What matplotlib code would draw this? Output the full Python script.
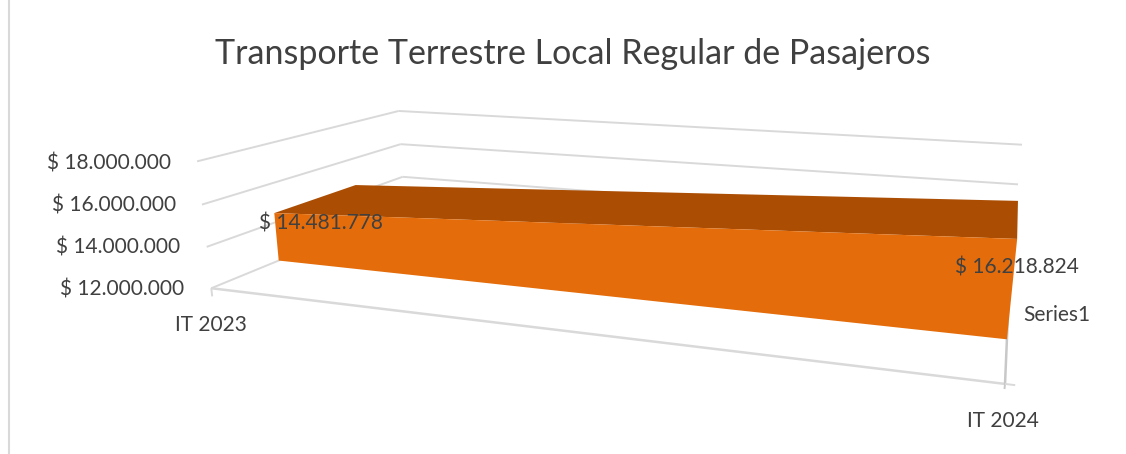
import numpy as np
import matplotlib
matplotlib.use('Agg')
import matplotlib.pyplot as plt

plt.rcParams['font.family'] = ['Lato', 'DejaVu Sans']

title = 'Transporte Terrestre Local Regular de Pasajeros'
categories = ['IT 2023', 'IT 2024']
series_name = 'Series1'
values = [14481778, 16218824]
value_labels = ['$ 14.481.778', '$ 16.218.824']
axis_ticks = [12000000, 14000000, 16000000, 18000000]
axis_labels = ['$ 12.000.000', '$ 14.000.000', '$ 16.000.000', '$ 18.000.000']

TEXT = '#404040'
GRID = '#d9d9d9'
FRONT = '#e46c0a'
TOP = '#ab4e04'

# depth of the area inside the 3d box (0 front, 1 back)
AREA_FRONT = 0.29
AREA_BACK = 0.71

# box corners, used to fit the camera: (x, depth, value) -> pixel
calib = [
    (0, 0, 12e6, 212, 288), (0, 0, 14e6, 206, 247), (0, 0, 16e6, 201, 205), (0, 0, 18e6, 198, 161),
    (0, 1, 14e6, 403, 177), (0, 1, 16e6, 400, 144), (0, 1, 18e6, 399, 111),
    (1, 0, 12e6, 1005, 384), (1, 1, 16e6, 1018, 184), (1, 1, 18e6, 1022, 145),
]


def fit_camera(points):
    rows, rhs = [], []
    for x, d, v, px, py in points:
        v = (v - 12e6) / 6e6
        rows.append([x, d, v, 1, 0, 0, 0, 0, -px * x, -px * d, -px * v])
        rows.append([0, 0, 0, 0, x, d, v, 1, -py * x, -py * d, -py * v])
        rhs += [px, py]
    p = np.linalg.lstsq(np.array(rows, float), np.array(rhs, float), rcond=None)[0]
    return np.append(p, 1).reshape(3, 4)


cam = fit_camera(calib)


def project(x, d, v):
    h = cam @ np.array([x, d, (v - 12e6) / 6e6, 1.0])
    return h[0] / h[2], h[1] / h[2]


def line3d(ax, a, b, **kw):
    pa, pb = project(*a), project(*b)
    ax.plot([pa[0], pb[0]], [pa[1], pb[1]], solid_capstyle='butt', **kw)


fig = plt.figure(figsize=(11.26, 4.54), dpi=100)
ax = fig.add_axes([0, 0, 1, 1])
ax.set_xlim(0, 1126)
ax.set_ylim(454, 0)
ax.axis('off')

# chart border
ax.plot([9, 9], [0, 454], color=GRID, lw=1.5)

# walls
for t in axis_ticks:
    line3d(ax, (0, 0, t), (0, 1, t), color=GRID, lw=1.4, zorder=1)
    line3d(ax, (0, 1, t), (1, 1, t), color=GRID, lw=1.4, zorder=1)

# floor
line3d(ax, (0, 0, 12e6), (1, 0, 12e6), color=GRID, lw=1.8, zorder=1)
line3d(ax, (1, 0, 12e6), (1, 1, 12e6), color='#c8c8c8', lw=1.8, zorder=1)
line3d(ax, (0, 0, 12e6), (0, 0, 11.6e6), color=GRID, lw=1.4, zorder=1)
line3d(ax, (1, 0, 12e6), (1, 0, 11.8e6), color='#c8c8c8', lw=1.4, zorder=1)
line3d(ax, (1, 0, 12e6), (1.01, 0, 12e6), color=GRID, lw=1.4, zorder=1)

# area
top_face = [project(0, AREA_FRONT, values[0]), project(1, AREA_FRONT, values[1]),
            project(1, AREA_BACK, values[1]), project(0, AREA_BACK, values[0])]
front_face = [project(0, AREA_FRONT, 12e6), project(1, AREA_FRONT, 12e6),
              project(1, AREA_FRONT, values[1]), project(0, AREA_FRONT, values[0])]
ax.fill(*zip(*top_face), color=TOP, lw=0, zorder=2)
ax.fill(*zip(*front_face), color=FRONT, lw=0, zorder=3)

# text
ax.text(573, 54, title, color=TEXT, fontsize=24.5, ha='center', va='center')
for lab, (px, py) in zip(axis_labels, [(184, 289), (180, 248), (176, 206), (171, 163)]):
    ax.text(px, py, lab, color=TEXT, fontsize=15, ha='right', va='center')
for lab, (px, py) in zip(categories, [(211, 325), (1003, 421)]):
    ax.text(px, py, lab, color=TEXT, fontsize=15, ha='center', va='center')
for lab, (px, py) in zip(value_labels, [(321, 224), (1017, 268)]):
    ax.text(px, py, lab, color=TEXT, fontsize=15, ha='center', va='center', zorder=5)
ax.text(1057, 315, series_name, color=TEXT, fontsize=15, ha='center', va='center')

fig.savefig('out.png', dpi=100)
